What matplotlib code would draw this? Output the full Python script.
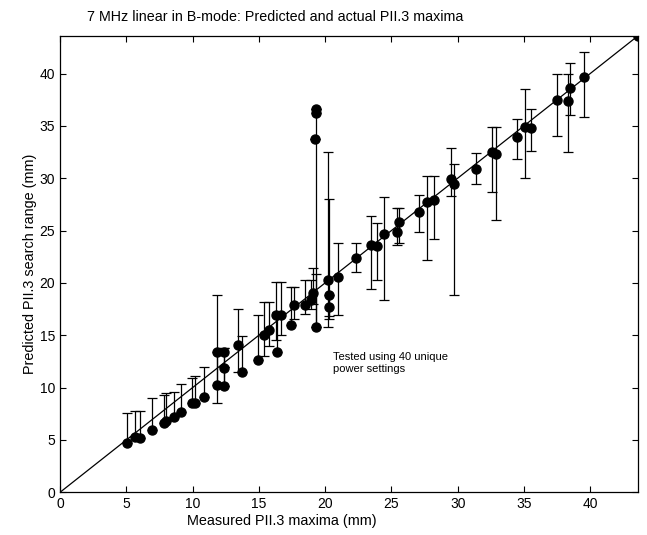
import numpy as np
import matplotlib
matplotlib.use("Agg")
import matplotlib.pyplot as plt

plt.rcParams['font.family'] = ['Liberation Sans', 'DejaVu Sans']

# measured PII.3 maxima (mm)
measured = [5.04, 5.67, 6.05, 6.93, 7.8, 8.0, 8.57, 9.1, 9.96, 10.2,
            10.84, 11.85, 11.85, 12.35, 12.35, 12.4, 13.44, 13.74, 14.9, 15.4,
            15.76, 16.34, 16.26, 16.64, 17.4, 17.65, 18.5, 18.9, 19.3, 19.3,
            19.25, 19.1, 19.3, 20.2, 20.3, 20.3, 21.0, 22.3, 23.45, 23.9,
            24.46, 25.4, 25.6, 27.06, 27.66, 28.2, 29.5, 29.75, 31.4, 32.6,
            32.9, 34.5, 35.1, 35.55, 37.5, 38.3, 38.5, 39.5, 43.6]
# predicted value
predicted = [4.7, 5.3, 5.2, 5.9, 6.6, 6.8, 7.2, 7.7, 8.5, 8.5,
             9.1, 13.4, 10.2, 13.4, 10.1, 11.9, 14.1, 11.45, 12.6, 15.0,
             15.5, 13.4, 16.9, 16.9, 16.0, 17.9, 17.9, 18.4, 36.6, 36.2,
             33.7, 19.0, 15.8, 20.3, 18.85, 17.7, 20.6, 22.4, 23.6, 23.5,
             24.7, 24.9, 25.8, 26.8, 27.7, 27.9, 29.9, 29.4, 30.9, 32.5,
             32.3, 33.9, 34.9, 34.8, 37.5, 37.35, 38.6, 39.7, 43.6]
# search range bounds
range_lo = [4.7, 5.3, 5.2, 5.9, 6.6, 6.8, 7.2, 7.7, 8.5, 8.5,
            9.1, 8.5, 10.2, 12.0, 10.1, 10.1, 11.45, 11.45, 12.6, 13.0,
            14.0, 13.4, 14.5, 15.0, 16.0, 16.5, 17.0, 17.5, 15.8, 36.2,
            33.7, 18.0, 15.8, 15.8, 16.5, 16.8, 16.9, 21.0, 19.4, 20.3,
            18.4, 23.6, 23.8, 24.9, 22.2, 24.2, 28.3, 18.85, 29.4, 28.7,
            26.0, 31.8, 30.0, 32.6, 34.0, 32.5, 36.0, 35.8, 43.6]
range_hi = [7.6, 7.75, 7.75, 9.0, 9.3, 9.5, 9.6, 10.3, 10.9, 11.1,
            12.0, 18.85, 13.4, 13.8, 12.0, 13.8, 17.5, 14.9, 16.9, 18.2,
            18.2, 17.25, 20.1, 20.1, 19.6, 19.6, 20.3, 20.3, 36.6, 36.6,
            33.7, 21.4, 20.8, 32.5, 28.0, 18.85, 23.8, 23.8, 26.4, 25.7,
            28.2, 27.2, 27.2, 28.4, 30.2, 30.2, 32.9, 31.4, 32.4, 34.9,
            34.9, 35.7, 38.5, 36.6, 40.0, 40.0, 41.0, 42.1, 43.6]

x = np.array(measured)
y = np.array(predicted)
yerr = [y - np.array(range_lo), np.array(range_hi) - y]

fig = plt.figure(figsize=(6.47, 5.35), dpi=100)
ax = fig.add_axes([0.093, 0.080, 0.893, 0.853])

lim = 43.6
ax.plot([0, lim], [0, lim], color='black', lw=0.9)
ax.errorbar(x, y, yerr=yerr, fmt='o', color='black', ms=6.5,
            ecolor='black', elinewidth=0.9, capsize=3.5, capthick=0.9)

ax.set_xlim(0, lim)
ax.set_ylim(0, lim)
ax.set_xticks(np.arange(0, 41, 5))
ax.set_yticks(np.arange(0, 41, 5))
ax.tick_params(direction='in', top=True, right=True, length=4, labelsize=10)
for s in ax.spines.values():
    s.set_linewidth(0.9)

# title and x label sit left of the axes centre in the original
fig.text(0.425, 0.968, '7 MHz linear in B-mode: Predicted and actual PII.3 maxima',
         fontsize=10.3, ha='center', va='center')
fig.text(0.436, 0.027, 'Measured PII.3 maxima (mm)', fontsize=10.4,
         ha='center', va='center')
ax.set_ylabel('Predicted PII.3 search range (mm)', fontsize=10.4, labelpad=2)

ax.text(20.6, 11.3, 'Tested using 40 unique\npower settings', fontsize=8,
        va='bottom', ha='left', linespacing=1.2)

fig.savefig('out.png', dpi=100)
